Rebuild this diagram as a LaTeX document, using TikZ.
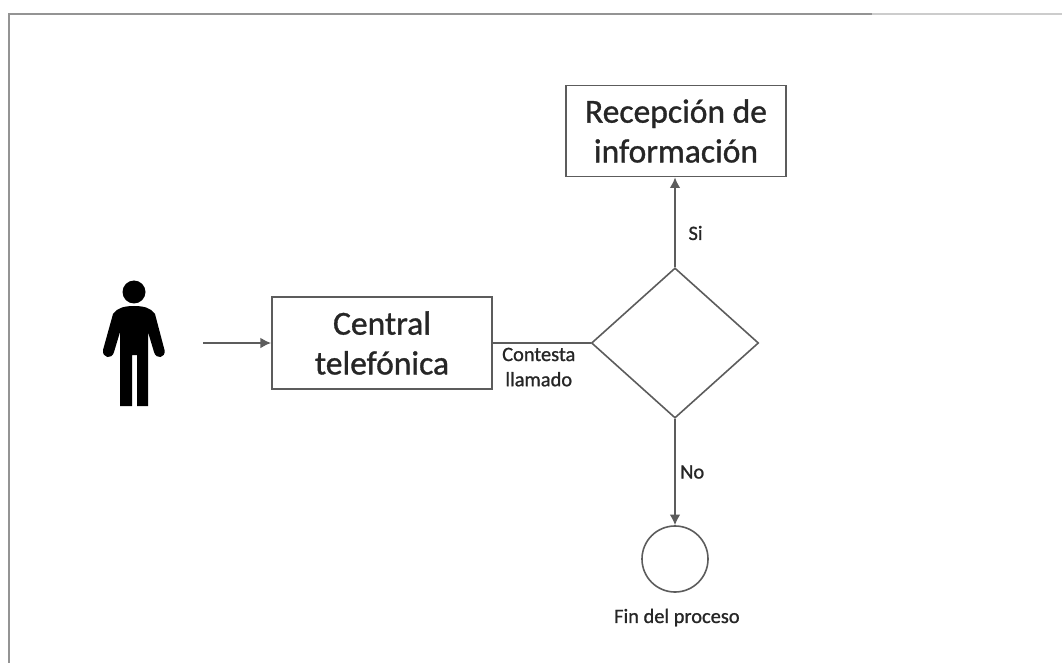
\documentclass[tikz,border=0pt]{standalone}
\usepackage{fontspec}
\setmainfont{Carlito}[FakeBold=1]
\usepackage{xcolor}
\definecolor{linegray}{rgb}{0.36,0.36,0.36}
\definecolor{framegray}{rgb}{0.58,0.58,0.58}
\definecolor{framefade}{rgb}{0.80,0.80,0.80}
\usetikzlibrary{arrows.meta}
\usetikzlibrary{shapes.geometric}
\usetikzlibrary{positioning}

\tikzset{
	box/.style={draw=linegray, line width=1.4pt, fill=white, align=center, inner sep=0, font=\fontsize{25.3}{30}\selectfont, text=black!85},
	label/.style={font=\fontsize{15.4}{19}\selectfont, text=black!85, align=center},
	link/.style={line width=1.2pt, draw=linegray},
	linkarrow/.style={link, -{Latex[length=8pt, width=8pt]}}
}

\begin{document}
\begin{tikzpicture}[x=.0265cm, y=-.0265cm]
\useasboundingbox[fill=white] (0, 0) rectangle (1062, 663);

\draw[framegray, line width=1.1pt] (9, 663) -- (9, 14) -- (872, 14);
\draw[framefade, line width=1.1pt] (872, 14) -- (1062, 14);

% person
\fill[black] (134, 292) circle (11.5);
\fill[black] (134, 306) .. controls (124, 306) and (117, 308) .. (113, 314) -- (103, 350)
	.. controls (102, 358) and (112, 360) .. (114, 352) -- (120, 332) -- (120, 406) -- (132, 406)
	-- (132, 355) -- (137, 355) -- (137, 406) -- (148, 406) -- (148, 332) -- (154, 352)
	.. controls (156, 360) and (166, 358) .. (164.5, 350) -- (155, 314)
	.. controls (151, 308) and (144, 306) .. (134, 306) -- cycle;

\coordinate (start) at (203, 343);
\node(central)[box, minimum width = 5.83cm, minimum height = 2.44cm] at (382, 343) {Central\\telefónica};
\node(recepcion)[box, minimum width = 5.83cm, minimum height = 2.41cm] at (676, 131) {Recepción de\\información};
\node(decision)[diamond, draw=linegray, line width=1.2pt, inner sep=0, minimum width = 4.43cm, minimum height = 3.98cm] at (675, 343) {};
\node(fin)[circle, draw=linegray, line width=1.2pt, inner sep=0, minimum size = 1.75cm] at (675, 559) {};
\node(fintext)[label, below = .3cm of fin, xshift = .05cm] {Fin del proceso};

\draw[linkarrow] (start) -- (central.west);
\draw[link] (central.east) -- node[midway,below,label,inner sep=3pt,xshift=-.08cm] {Contesta\\llamado} (decision.west);
\draw[linkarrow] (decision.north) -- node[pos=.38,right,label,xshift=.22cm] {Si} (decision.north |- recepcion.south);
\draw[linkarrow] (decision.south) -- node[midway,right,label] {No} (fin.north);
\end{tikzpicture}
\end{document}
